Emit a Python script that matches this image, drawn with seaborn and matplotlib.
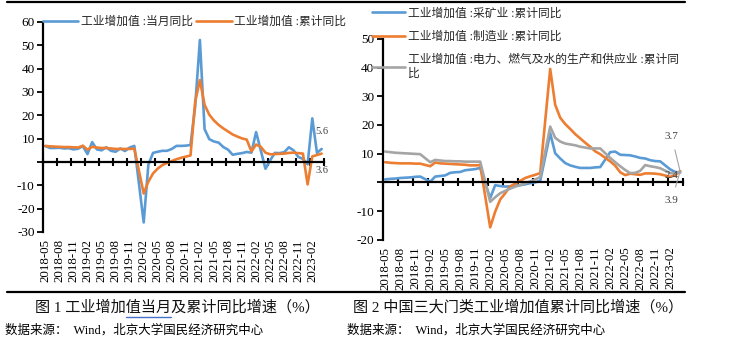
import numpy as np
import pandas as pd
import matplotlib
matplotlib.use('Agg')
import matplotlib.pyplot as plt
import seaborn as sns
from matplotlib.lines import Line2D
from matplotlib.ticker import FuncFormatter

# ---------------- data ----------------
months = pd.period_range('2018-05', '2023-04', freq='M').strftime('%Y-%m').tolist()
nan = np.nan

# Figure 1: industrial value added, monthly yoy and cumulative yoy (%)
ip_month = [6.8, 6.0, 6.0, 6.1, 5.8, 5.9, 5.4, 5.7,
            6.8, 3.4, 8.5, 5.4, 5.0, 6.3, 4.8, 4.4, 5.8, 4.7, 6.2, 6.9,
            nan, -25.9, -1.1, 3.9, 4.4, 4.8, 4.8, 5.6, 6.9, 6.9, 7.0, 7.3,
            24.0, 52.3, 14.1, 9.8, 8.8, 8.3, 6.4, 5.3, 3.1, 3.5, 3.8, 4.3,
            4.0, 12.8, 5.0, -2.9, 0.7, 3.9, 3.8, 4.2, 6.3, 5.0, 2.2, 1.3,
            -1.0, 18.7, 3.9, 5.6]
ip_cum = [6.9, 6.7, 6.6, 6.5, 6.4, 6.4, 6.3, 6.2,
          7.0, 5.3, 6.5, 6.2, 6.0, 6.0, 5.8, 5.6, 5.6, 5.6, 5.6, 5.7,
          nan, -13.5, -8.4, -4.9, -2.8, -1.3, -0.4, 0.4, 1.2, 1.8, 2.3, 2.8,
          26.0, 35.1, 24.5, 20.3, 17.8, 15.9, 14.4, 13.1, 11.8, 10.9, 10.1, 9.6,
          4.5, 7.5, 6.5, 4.0, 3.3, 3.4, 3.5, 3.6, 3.9, 4.0, 3.8, 3.6,
          -9.6, 2.4, 3.0, 3.6]

# Figure 2: three sectors, cumulative yoy (%)
mining = [1.0, 1.2, 1.3, 1.5, 1.6, 1.7, 1.9, 2.0,
          nan, 0.2, 2.0, 2.2, 2.4, 3.3, 3.5, 3.6, 4.2, 4.4, 4.6, 5.0,
          nan, -5.5, -1.0, -1.3, -1.5, -1.4, -1.2, -1.0, -0.7, -0.3, 0.0, 0.5,
          nan, 17.1, 10.1, 8.3, 6.7, 5.9, 5.4, 5.0, 5.0, 5.0, 5.2, 5.3,
          nan, 10.5, 10.7, 9.6, 9.5, 9.4, 9.0, 8.5, 8.3, 7.7, 7.4, 7.3,
          nan, 4.5, 3.6, 3.4]
manufacturing = [7.0, 6.8, 6.7, 6.6, 6.6, 6.6, 6.5, 6.5,
                 nan, 5.6, 6.9, 6.6, 6.5, 6.4, 6.3, 6.2, 6.1, 5.9, 5.9, 6.0,
                 nan, -15.7, -10.2, -6.0, -3.8, -1.4, -0.5, 0.5, 1.5, 2.1, 2.6, 3.2,
                 nan, 39.5, 27.0, 22.5, 20.3, 18.6, 16.8, 15.3, 13.8, 12.4, 10.8, 9.8,
                 nan, 7.3, 5.8, 3.5, 2.5, 3.0, 2.8, 2.6, 3.1, 3.1, 3.0, 2.8,
                 nan, 1.9, 2.5, 3.9]
utilities = [10.7, 10.5, 10.3, 10.2, 10.1, 10.0, 9.9, 9.8,
             nan, 7.0, 7.8, 7.6, 7.4, 7.4, 7.3, 7.3, 7.2, 7.2, 7.2, 7.2,
             nan, -6.8, -5.2, -3.8, -3.0, -2.2, -1.5, -1.0, -0.3, 0.3, 1.0, 1.8,
             nan, 19.4, 15.5, 14.2, 13.5, 13.2, 12.9, 12.4, 12.1, 11.8, 11.8, 11.8,
             nan, 8.5, 7.0, 5.6, 4.3, 3.2, 3.3, 4.0, 6.0, 5.6, 5.3, 4.9,
             nan, 3.2, 3.1, 3.7]

names1 = ['工业增加值 :当月同比', '工业增加值 :累计同比']
names2 = ['工业增加值 :采矿业 :累计同比', '工业增加值 :制造业 :累计同比',
          '工业增加值 :电力、燃气及水的生产和供应业 :累计同\n比']
end_labels1 = ['5.6', '3.6']
end_labels2 = ['3.7', '2.4', '3.9']

BLUE, ORANGE, GREY = '#5B9BD5', '#ED7D31', '#A5A5A5'

# ---------------- figure ----------------
sns.set_theme(style='white')
plt.rcParams['font.family'] = ['Liberation Serif', 'Noto Sans CJK SC', 'DejaVu Sans']
plt.rcParams['axes.unicode_minus'] = False

W, H = 735, 348
fig = plt.figure(figsize=(W / 100, H / 100), dpi=100, facecolor='white')

def fx(px):
    return px / W

def fy(py):
    return 1 - py / H

ax1 = fig.add_axes([fx(43), fy(232), fx(324) - fx(43), fy(22) - fy(232)])
ax2 = fig.add_axes([fx(382.7), fy(239.7), fx(682.7) - fx(382.7), fy(38.8) - fy(239.7)])

idx = np.arange(len(months))

df1 = pd.DataFrame({'idx': idx, names1[0]: ip_month, names1[1]: ip_cum})
df1 = df1.melt('idx', var_name='series', value_name='value').dropna()
sns.lineplot(data=df1, x='idx', y='value', hue='series', hue_order=names1,
             palette=[BLUE, ORANGE], linewidth=1.9, ax=ax1, legend=False,
             estimator=None)

df2 = pd.DataFrame({'idx': idx, names2[0]: mining, names2[1]: manufacturing,
                    names2[2]: utilities})
df2 = df2.melt('idx', var_name='series', value_name='value').dropna()
sns.lineplot(data=df2, x='idx', y='value', hue='series', hue_order=names2,
             palette=[BLUE, ORANGE, GREY], linewidth=1.9, ax=ax2, legend=False,
             estimator=None)

def style_axes(ax, ylo, yhi, label_off):
    ax.set_facecolor('none')
    ax.set_xlim(-0.5, len(months) - 0.5)
    ax.set_ylim(ylo, yhi)
    ax.set_xlabel('')
    ax.set_ylabel('')
    for s in ['top', 'right']:
        ax.spines[s].set_visible(False)
    ax.spines['bottom'].set_position(('data', 0))
    for s in ['bottom', 'left']:
        ax.spines[s].set_color('black')
        ax.spines[s].set_linewidth(1.6)
    ax.set_yticks(np.arange(ylo, yhi + 1, 10))
    ax.yaxis.set_major_formatter(FuncFormatter(lambda v, p: '' if v == 0 else f'{v:.0f}'))
    ax.tick_params(axis='y', direction='out', length=4, width=1.3, color='black',
                   labelsize=9.5, pad=2, left=True, labelcolor='black')
    ax.set_xticks(np.arange(-0.5, len(months), 3))
    ax.tick_params(axis='x', direction='inout', length=6, width=1.5, color='black',
                   bottom=True, labelbottom=False)
    ax.grid(False)
    for i in range(0, len(months), 3):
        ax.text(i, -label_off, months[i], transform=ax.get_xaxis_transform(),
                rotation=90, ha='center', va='top', fontsize=9.3, color='black')

style_axes(ax1, -30, 60, 0.035)
style_axes(ax2, -20, 50, 0.035)

# legends
h1 = [Line2D([], [], color=c, lw=1.9) for c in [BLUE, ORANGE]]
ax1.legend(h1, names1, loc='center left', bbox_to_anchor=(fx(43), fy(22)),
           bbox_transform=fig.transFigure, ncol=2, frameon=False, fontsize=8.5,
           handlelength=3.0, handletextpad=0.2, columnspacing=0.3,
           borderpad=0, borderaxespad=0)
h2 = [Line2D([], [], color=c, lw=1.9) for c in [BLUE, ORANGE, GREY]]
ax2.legend(h2, names2, loc='upper left', bbox_to_anchor=(fx(372), fy(7.5)),
           bbox_transform=fig.transFigure, ncol=1, frameon=False, fontsize=8.5,
           handlelength=2.8, handletextpad=0.25, labelspacing=0.95,
           borderpad=0, borderaxespad=0)

# end-point data labels
last = len(months) - 1
ax1.text(last, 13.1, end_labels1[0], ha='center', va='center', fontsize=7.5, color='#404040')
ax1.text(last, -3.7, end_labels1[1], ha='center', va='center', fontsize=7.5, color='#404040')
ax2.annotate(end_labels2[0], xy=(last, utilities[-1]), xytext=(57.3, 15.9),
             ha='center', va='center', fontsize=8, color='#404040',
             arrowprops=dict(arrowstyle='-', color=GREY, lw=0.8, shrinkA=4, shrinkB=0))
ax2.text(57.3, 2.5, end_labels2[1], ha='center', va='center', fontsize=8, color='#404040')
ax2.annotate(end_labels2[2], xy=(last, manufacturing[-1]), xytext=(57.3, -6.2),
             ha='center', va='center', fontsize=8, color='#404040',
             arrowprops=dict(arrowstyle='-', color=GREY, lw=0.8, shrinkA=4, shrinkB=0))

# captions and rules
fig.add_artist(Line2D([fx(7), fx(685)], [fy(2), fy(2)], color='black', lw=1.6))
fig.add_artist(Line2D([fx(7), fx(685)], [fy(292), fy(292)], color='black', lw=1.6))
fig.text(fx(35), fy(307), '图 1 工业增加值当月及累计同比增速（%）', fontsize=10.9,
         ha='left', va='center', color='#111111')
fig.text(fx(353), fy(307), '图 2 中国三大门类工业增加值累计同比增速（%）', fontsize=10.9,
         ha='left', va='center', color='#111111')
fig.add_artist(Line2D([fx(126), fx(171)], [fy(316.5), fy(316.5)], color='#4472C4', lw=1.0))
fig.text(fx(5), fy(330), '数据来源：  Wind，北京大学国民经济研究中心', fontsize=9,
         ha='left', va='center', color='black')
fig.text(fx(347), fy(330), '数据来源：  Wind，北京大学国民经济研究中心', fontsize=9,
         ha='left', va='center', color='black')

fig.savefig('out.png', dpi=100, facecolor='white')
